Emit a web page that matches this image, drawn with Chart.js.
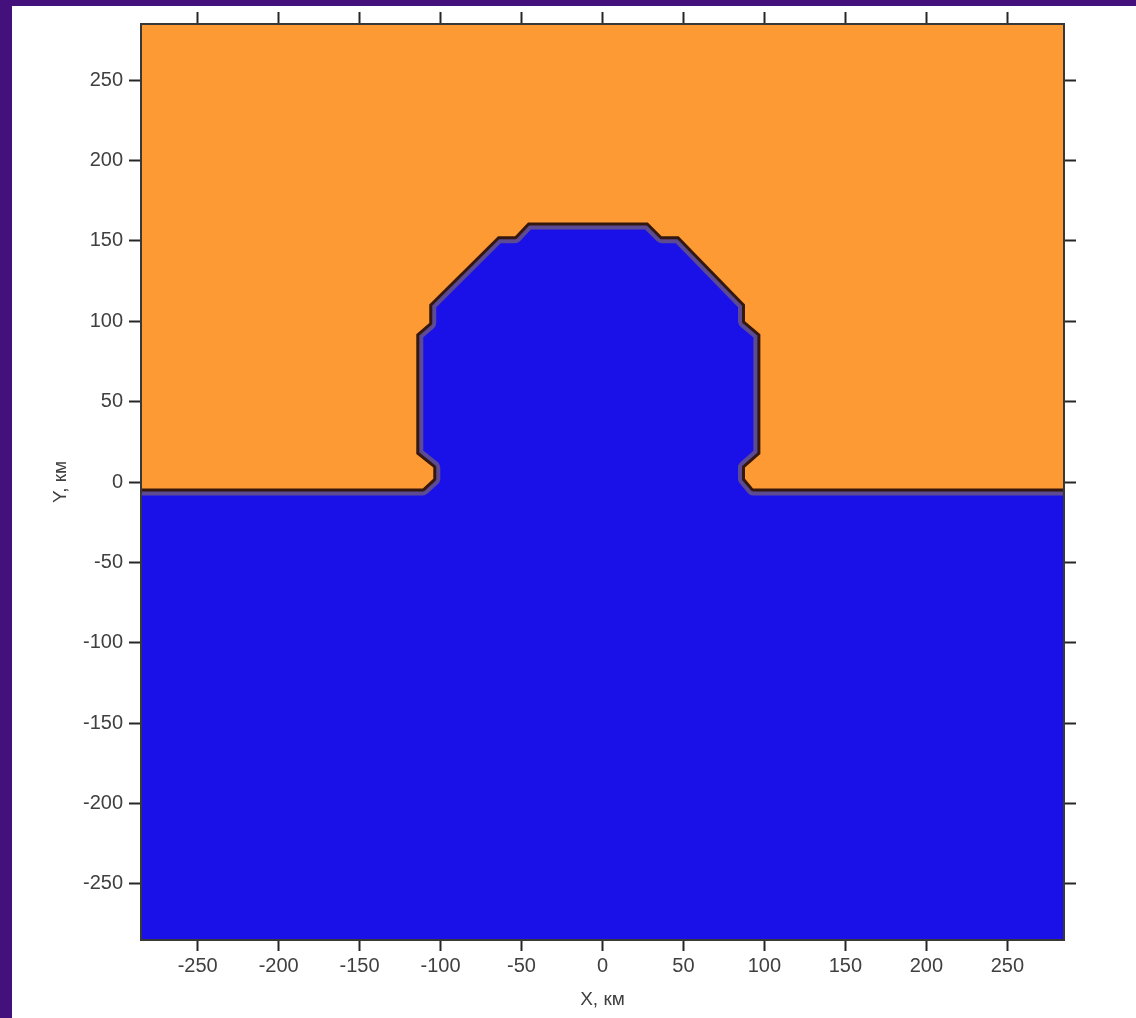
<!DOCTYPE html>
<html>
<head>
<meta charset="utf-8">
<script src="https://cdn.jsdelivr.net/npm/chart.js@4.4.1/dist/chart.umd.min.js"></script>
<style>
  html, body { margin: 0; padding: 0; }
  body { width: 1136px; height: 1018px; overflow: hidden; position: relative; background: #44107c; }
  #panel { position: absolute; left: 12px; top: 6px; width: 1124px; height: 1012px; background: #ffffff; }
  canvas { display: block; }
</style>
</head>
<body>
<div id="panel"><canvas id="c" width="1124" height="1012"></canvas></div>
<script>
// Model section extent, km
const X_RANGE = [-285, 285];
const Y_RANGE = [-285, 285];

// Axis tick values, km
const X_TICKS = [-250, -200, -150, -100, -50, 0, 50, 100, 150, 200, 250];
const Y_TICKS = [-250, -200, -150, -100, -50, 0, 50, 100, 150, 200, 250];

// Interface between the upper and lower layers, traced left to right (km)
const boundaryX = [-285, -111, -104.5, -104.5, -115, -115, -107, -107, -64.5, -54, -46,
                   28, 36.5, 47, 88, 88, 97.5, 97.5, 88, 88, 93, 285];
const boundaryY = [-4, -4, 2, 9, 17.5, 92, 99, 110.5, 153, 153, 161.5,
                   161.5, 153, 153, 110.5, 100, 92, 17.5, 9, 2, -4, -4];

const UPPER_COLOR = '#fe9a33';
const LOWER_COLOR = '#1a10e8';
const CONTOUR_DARK = '#34170f';
const CONTOUR_HALO = '#5c4a92';
const TEXT_COLOR = '#404040';

const boundary = boundaryX.map((x, i) => ({ x, y: boundaryY[i] }));
const upperLayer = boundary.concat([{ x: X_RANGE[1], y: Y_RANGE[1] }, { x: X_RANGE[0], y: Y_RANGE[1] }]);
const lowerLayer = boundary.concat([{ x: X_RANGE[1], y: Y_RANGE[0] }, { x: X_RANGE[0], y: Y_RANGE[0] }]);

const lineBase = {
  showLine: true,
  pointRadius: 0,
  pointHoverRadius: 0,
  tension: 0,
  clip: 0,
  borderJoinStyle: 'round',
  borderCapStyle: 'butt'
};

const tickFont = { family: "'Liberation Sans', Arial, sans-serif", size: 20 };
const titleFont = { family: "'Liberation Sans', Arial, sans-serif", size: 19 };

function fixedTicks(values) {
  return (axis) => { axis.ticks = values.map(v => ({ value: v })); };
}

const frame = { display: true, color: '#383838', width: 2, z: 1 };
const tickMarks = { drawOnChartArea: false, drawTicks: true, tickLength: 12, tickWidth: 2, tickColor: '#262626' };

new Chart(document.getElementById('c'), {
  type: 'scatter',
  data: {
    datasets: [
      // drawn last: upper layer covers the outer half of the contour strokes
      Object.assign({}, lineBase, { data: upperLayer, fill: 'shape', backgroundColor: UPPER_COLOR, borderColor: 'rgba(0,0,0,0)', borderWidth: 1 }),
      Object.assign({}, lineBase, { data: boundary, fill: false, borderColor: CONTOUR_DARK, borderWidth: 6 }),
      Object.assign({}, lineBase, { data: boundary, fill: false, borderColor: CONTOUR_HALO, borderWidth: 14 }),
      Object.assign({}, lineBase, { data: lowerLayer, fill: 'shape', backgroundColor: LOWER_COLOR, borderColor: 'rgba(0,0,0,0)', borderWidth: 1 })
    ]
  },
  options: {
    responsive: false,
    animation: false,
    devicePixelRatio: 1,
    layout: { padding: 0 },
    plugins: { legend: { display: false }, tooltip: { enabled: false } },
    events: [],
    scales: {
      x: {
        type: 'linear', position: 'bottom', min: X_RANGE[0], max: X_RANGE[1],
        afterBuildTicks: fixedTicks(X_TICKS),
        grid: Object.assign({}, tickMarks, { tickLength: 11 }),
        border: frame,
        ticks: { font: tickFont, color: TEXT_COLOR, padding: 3, maxRotation: 0, autoSkip: false },
        title: { display: true, text: 'X, км', font: titleFont, color: TEXT_COLOR, padding: { top: 0, bottom: 7 } },
        afterFit: (s) => { s.height = 78; }
      },
      x2: {
        type: 'linear', position: 'top', min: X_RANGE[0], max: X_RANGE[1],
        afterBuildTicks: fixedTicks(X_TICKS),
        grid: tickMarks,
        border: frame,
        ticks: { display: false },
        afterFit: (s) => { s.height = 14; }
      },
      y: {
        type: 'linear', position: 'left', min: Y_RANGE[0], max: Y_RANGE[1],
        afterBuildTicks: fixedTicks(Y_TICKS),
        grid: tickMarks,
        border: frame,
        ticks: { font: tickFont, color: TEXT_COLOR, padding: 6, autoSkip: false },
        title: { display: true, text: 'Y, км', font: titleFont, color: TEXT_COLOR, padding: { top: 37, bottom: 0 } },
        afterFit: (s) => { s.width = 129; }
      },
      y2: {
        type: 'linear', position: 'right', min: Y_RANGE[0], max: Y_RANGE[1],
        afterBuildTicks: fixedTicks(Y_TICKS),
        grid: tickMarks,
        border: frame,
        ticks: { display: false },
        afterFit: (s) => { s.width = 72; }
      }
    }
  }
});
</script>
</body>
</html>
